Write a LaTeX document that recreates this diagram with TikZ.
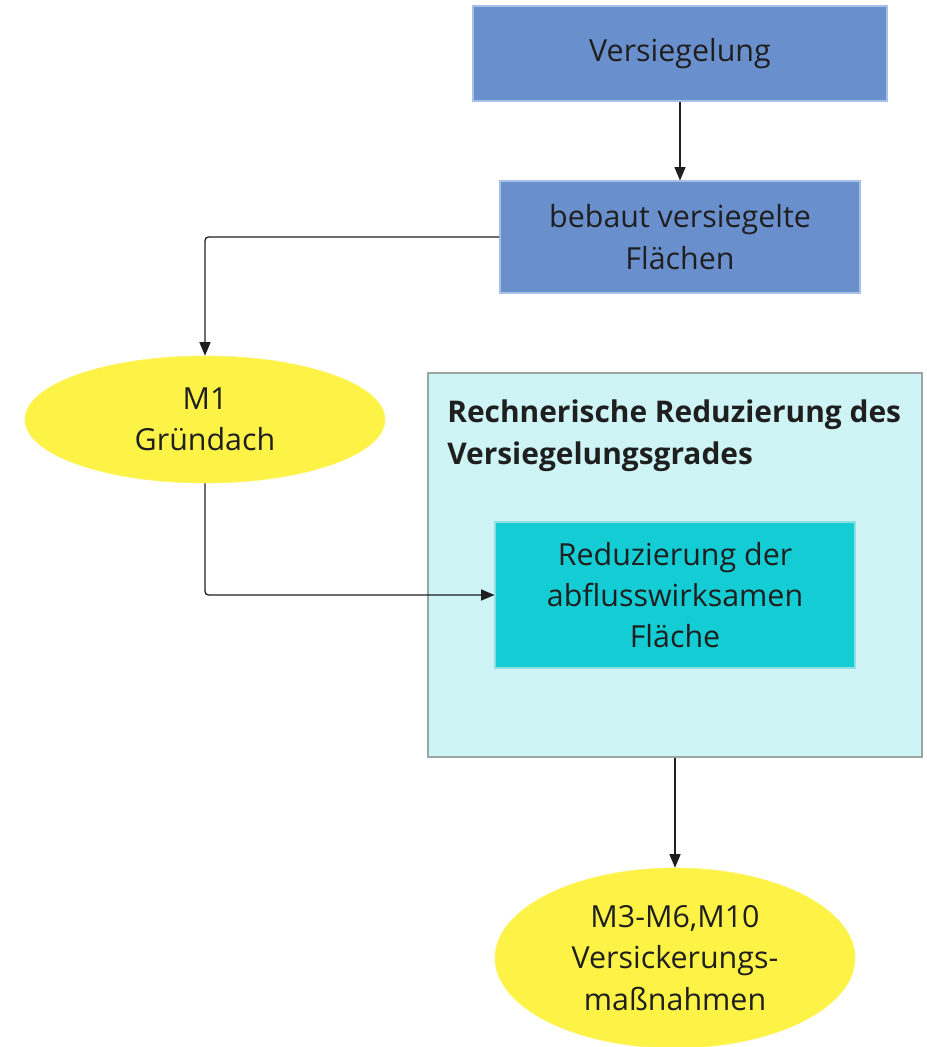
\documentclass[tikz,border=0pt]{standalone}
\usepackage{fontspec}
\setmainfont{Open Sans}
\usepackage{tikz}
\usetikzlibrary{positioning}
\usetikzlibrary{shapes,arrows}
\definecolor{sealblue}{HTML}{6A8FCD}
\definecolor{sealedge}{HTML}{A8BFE6}
\definecolor{measyellow}{HTML}{FDF246}
\definecolor{groupcyan}{HTML}{CFF4F5}
\definecolor{groupedge}{HTML}{9AA6A6}
\definecolor{reducecyan}{HTML}{14CCD3}
\definecolor{reduceedge}{HTML}{8FE0E3}
\definecolor{inkdark}{HTML}{1F1F1F}
\tikzset{%
  block/.style    = {draw=sealedge, fill=sealblue, rectangle, align=center,
    text=inkdark, font=\fontsize{17.3}{23.5}\selectfont, line width=0.6pt},
  measure/.style  = {ellipse, fill=measyellow, draw=measyellow!80!white, align=center,
    inner sep=0pt, text=inkdark, font=\fontsize{17.3}{23.5}\selectfont},
  group/.style    = {draw=groupedge, fill=groupcyan, rectangle, line width=0.6pt},
  reduce/.style   = {draw=reduceedge, fill=reducecyan, rectangle, align=center,
    text=inkdark, font=\fontsize{17.3}{23.5}\selectfont, line width=0.6pt},
  link/.style     = {->, draw=inkdark, line width=0.75pt, rounded corners=2pt}
}
\begin{document}
\begin{tikzpicture}[auto, >=triangle 45]
  \useasboundingbox (0,0) rectangle (18.52,-20.94);

  \draw node at (13.6,-1.07) [block, minimum width=8.28cm, minimum height=1.9cm] (seal) {Versiegelung};
  \draw node at (13.6,-4.74) [block, minimum width=7.2cm, minimum height=2.24cm] (built) {bebaut versiegelte\\Flächen};
  \draw node at (4.1,-8.39) [measure, minimum width=7.2cm, minimum height=2.54cm] (roof) {M1\\Gründach};

  \draw node at (13.5,-11.3) [group, minimum width=9.88cm, minimum height=7.68cm] (calc) {};
  \draw node at (8.94,-7.98) [anchor=north west, inner sep=0pt, align=left, text=inkdark,
    font=\fontsize{17}{24}\selectfont\bfseries] (calctitle) {Rechnerische Reduzierung des\\Versiegelungsgrades};
  \draw node at (13.5,-11.9) [reduce, minimum width=7.2cm, minimum height=2.92cm] (area) {Reduzierung der\\abflusswirksamen\\Fläche};

  \draw node at (13.5,-19.16) [measure, minimum width=7.2cm, minimum height=3.6cm] (infil) {M3-M6,M10\\Versickerungs-\\maßnahmen};

  \draw[link] (seal) -- (built);
  \draw[link] (built.west) -| (roof.north);
  \draw[link] (roof.south) |- (area.west);
  \draw[link] (calc.south) -- (infil.north);

\end{tikzpicture}
\end{document}
